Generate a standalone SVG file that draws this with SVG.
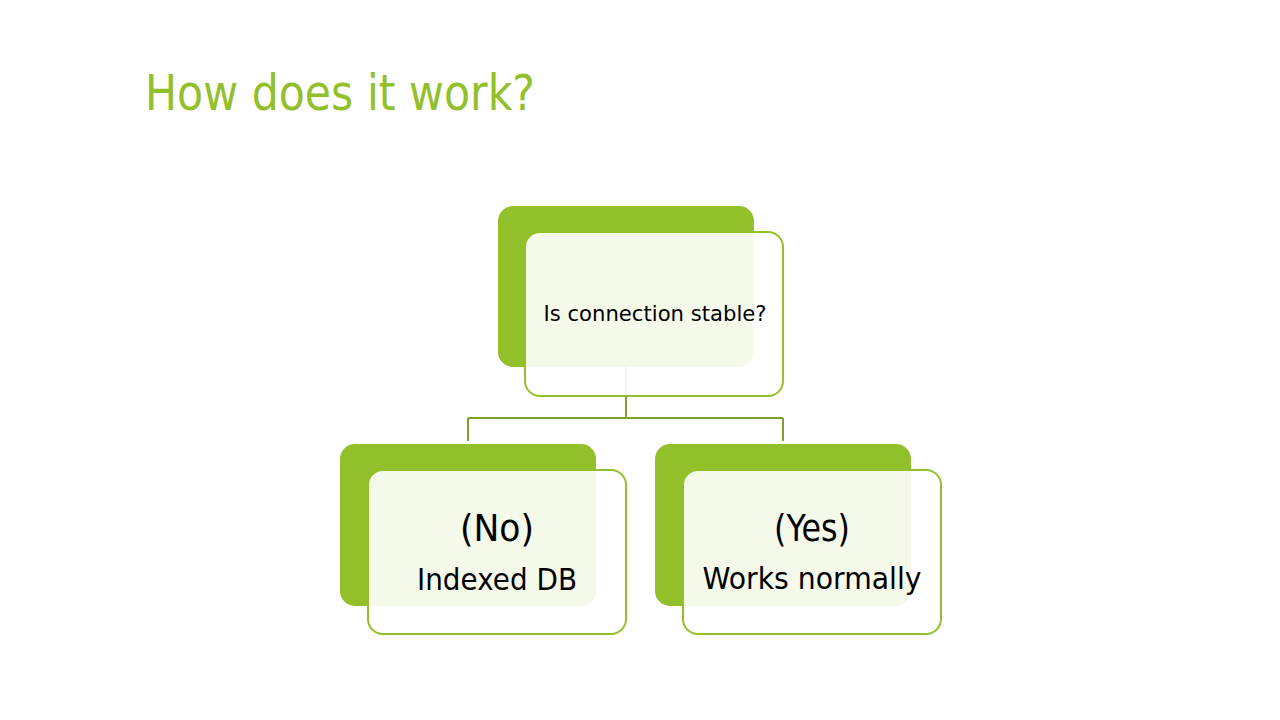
<svg xmlns="http://www.w3.org/2000/svg" width="1280" height="720" viewBox="0 0 1280 720">
<style>
.back{fill:#92C02A}
.front{fill:#FFFFFF;fill-opacity:0.9;stroke:#92C02A;stroke-width:2}
.conn{fill:none;stroke:#7BA428;stroke-width:2}
text{font-family:"DejaVu Sans","Liberation Sans",sans-serif;fill:#000;text-anchor:middle}
</style>
<rect width="1280" height="720" fill="#FFFFFF"/>
<text x="145" y="110" font-size="50" style="text-anchor:start;fill:#92C02A" textLength="390" lengthAdjust="spacingAndGlyphs">How does it work?</text>
<g id="connectors">
<path class="conn" d="M626,367 V418 M468,418 H783 M468,418 V441 M783,418 V441"/>
</g>
<g id="node-top">
<rect class="back" x="498" y="206" width="256" height="161" rx="15"/>
<rect class="front" x="525" y="232" width="258" height="164" rx="15"/>
<text x="655" y="321" font-size="22" textLength="223" lengthAdjust="spacingAndGlyphs">Is connection stable?</text>
</g>
<g id="node-no">
<rect class="back" x="340" y="444" width="256" height="162" rx="15"/>
<rect class="front" x="368" y="470" width="258" height="164" rx="15"/>
<text x="497" y="541" font-size="38" textLength="74" lengthAdjust="spacingAndGlyphs">(No)</text>
<text x="497" y="590" font-size="30" textLength="160" lengthAdjust="spacingAndGlyphs">Indexed DB</text>
</g>
<g id="node-yes">
<rect class="back" x="655" y="444" width="256" height="162" rx="15"/>
<rect class="front" x="683" y="470" width="258" height="164" rx="15"/>
<text x="812" y="541" font-size="38" textLength="76" lengthAdjust="spacingAndGlyphs">(Yes)</text>
<text x="812" y="589" font-size="30" textLength="219" lengthAdjust="spacingAndGlyphs">Works normally</text>
</g>
</svg>
